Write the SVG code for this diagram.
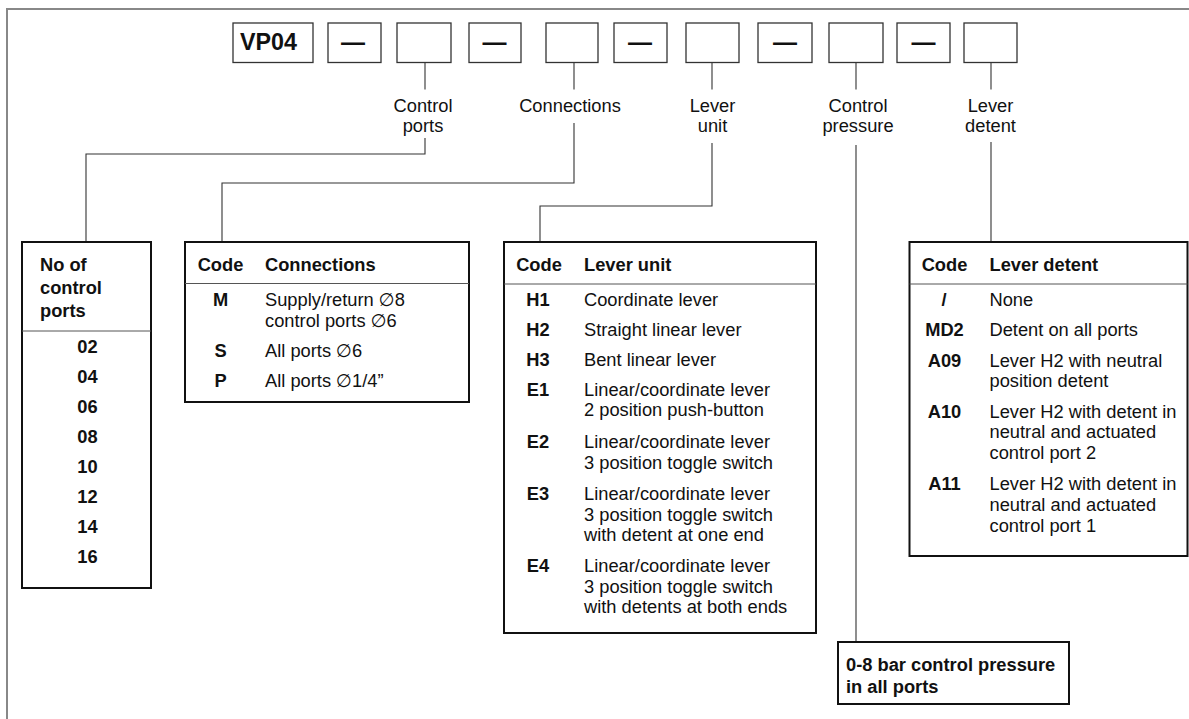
<svg xmlns="http://www.w3.org/2000/svg" width="1189" height="719" viewBox="0 0 1189 719">
<style>
text{font-family:"Liberation Sans",Arial,"DejaVu Sans",sans-serif;font-size:18.3px;fill:#111}
.b{font-weight:bold}
.m{text-anchor:middle}
.code{fill:#fff;stroke:#333;stroke-width:1.3}
.tbl{fill:#fff;stroke:#111;stroke-width:2}
.sep{stroke:#555;stroke-width:1}
.con{fill:none;stroke:#333;stroke-width:1.1}
.dash{font-size:24px;font-weight:bold;text-anchor:middle}
</style>
<rect x="7" y="9" width="1200" height="720" fill="#fff" stroke="#888" stroke-width="2"/>
<g id="code-row">
<rect class="code" x="233" y="23" width="80" height="39.5"/>
<text class="b" x="240" y="50" style="font-size:24px" textLength="57" lengthAdjust="spacingAndGlyphs">VP04</text>
<rect class="code" x="328" y="23" width="53" height="39.5"/>
<text class="dash" x="353" y="49.5">—</text>
<rect class="code" x="397" y="23" width="54" height="39.5"/>
<rect class="code" x="469" y="23" width="52" height="39.5"/>
<text class="dash" x="494.5" y="49.5">—</text>
<rect class="code" x="546" y="23" width="52" height="39.5"/>
<rect class="code" x="614" y="23" width="53" height="39.5"/>
<text class="dash" x="640" y="49.5">—</text>
<rect class="code" x="686" y="23" width="53" height="39.5"/>
<rect class="code" x="758" y="23" width="54" height="39.5"/>
<text class="dash" x="785" y="49.5">—</text>
<rect class="code" x="829" y="23" width="54" height="39.5"/>
<rect class="code" x="897" y="23" width="53" height="39.5"/>
<text class="dash" x="923.5" y="49.5">—</text>
<rect class="code" x="964" y="23" width="53" height="39.5"/>
</g>
<g id="labels">
<text class="m" x="423" y="112">Control</text>
<text class="m" x="423" y="132">ports</text>
<text class="m" x="570" y="112">Connections</text>
<text class="m" x="712.5" y="112">Lever</text>
<text class="m" x="712.5" y="132">unit</text>
<text class="m" x="858" y="112">Control</text>
<text class="m" x="858" y="132">pressure</text>
<text class="m" x="990.5" y="112">Lever</text>
<text class="m" x="990.5" y="132">detent</text>
</g>
<g id="connectors">
<path class="con" d="M425,62.5 V89.5 M425,138 V154 H86 V242"/>
<path class="con" d="M574,62.5 V89.5 M574,123 V183 H222 V242"/>
<path class="con" d="M712,62.5 V89.5 M712,143 V206 H540 V242"/>
<path class="con" d="M856,62.5 V89.5 M856,145 V642"/>
<path class="con" d="M991,62.5 V89.5 M991,142 V242"/>
</g>
<g id="control-ports-table">
<rect class="tbl" x="22" y="242" width="129" height="346"/>
<text class="b" x="40" y="271">No of</text>
<text class="b" x="40" y="294">control</text>
<text class="b" x="40" y="317">ports</text>
<line class="sep" x1="22" y1="331" x2="151" y2="331"/>
<text class="b m" x="87.5" y="353">02</text>
<text class="b m" x="87.5" y="383">04</text>
<text class="b m" x="87.5" y="413">06</text>
<text class="b m" x="87.5" y="443">08</text>
<text class="b m" x="87.5" y="473">10</text>
<text class="b m" x="87.5" y="503">12</text>
<text class="b m" x="87.5" y="533">14</text>
<text class="b m" x="87.5" y="563">16</text>
</g>
<g id="connections-table">
<rect class="tbl" x="185" y="242" width="284" height="160"/>
<text class="b m" x="220.5" y="271">Code</text>
<text class="b" x="265" y="271">Connections</text>
<line class="sep" x1="185" y1="283.5" x2="469" y2="283.5"/>
<text class="b m" x="220.5" y="306">M</text>
<text x="265" y="306">Supply/return ∅8</text>
<text x="265" y="327">control ports ∅6</text>
<text class="b m" x="220.5" y="357">S</text>
<text x="265" y="357">All ports ∅6</text>
<text class="b m" x="220.5" y="387">P</text>
<text x="265" y="387">All ports ∅1/4”</text>
</g>
<g id="lever-unit-table">
<rect class="tbl" x="504" y="242" width="312" height="391"/>
<text class="b m" x="539" y="271">Code</text>
<text class="b" x="584" y="271">Lever unit</text>
<line class="sep" x1="504" y1="284" x2="816" y2="284"/>
<text class="b m" x="538" y="306">H1</text>
<text x="584" y="306">Coordinate lever</text>
<text class="b m" x="538" y="336">H2</text>
<text x="584" y="336">Straight linear lever</text>
<text class="b m" x="538" y="366">H3</text>
<text x="584" y="366">Bent linear lever</text>
<text class="b m" x="538" y="395.5">E1</text>
<text x="584" y="395.5">Linear/coordinate lever</text>
<text x="584" y="416">2 position push-button</text>
<text class="b m" x="538" y="448">E2</text>
<text x="584" y="448">Linear/coordinate lever</text>
<text x="584" y="468.5">3 position toggle switch</text>
<text class="b m" x="538" y="500">E3</text>
<text x="584" y="500">Linear/coordinate lever</text>
<text x="584" y="520.5">3 position toggle switch</text>
<text x="584" y="541">with detent at one end</text>
<text class="b m" x="538" y="572">E4</text>
<text x="584" y="572">Linear/coordinate lever</text>
<text x="584" y="592.5">3 position toggle switch</text>
<text x="584" y="613">with detents at both ends</text>
</g>
<g id="lever-detent-table">
<rect class="tbl" x="909.5" y="242" width="278" height="314"/>
<text class="b m" x="944.5" y="271">Code</text>
<text class="b" x="989.5" y="271">Lever detent</text>
<line class="sep" x1="909.5" y1="284" x2="1187.5" y2="284"/>
<text class="b m" x="944" y="306">/</text>
<text x="989.5" y="306">None</text>
<text class="b m" x="944.5" y="336">MD2</text>
<text x="989.5" y="336">Detent on all ports</text>
<text class="b m" x="944.5" y="366.5">A09</text>
<text x="989.5" y="366.5">Lever H2 with neutral</text>
<text x="989.5" y="387">position detent</text>
<text class="b m" x="944.5" y="417.5">A10</text>
<text x="989.5" y="417.5">Lever H2 with detent in</text>
<text x="989.5" y="438">neutral and actuated</text>
<text x="989.5" y="458.5">control port 2</text>
<text class="b m" x="944.5" y="490">A11</text>
<text x="989.5" y="490">Lever H2 with detent in</text>
<text x="989.5" y="511">neutral and actuated</text>
<text x="989.5" y="532">control port 1</text>
</g>
<g id="control-pressure-box">
<rect class="tbl" x="838" y="642" width="231" height="62"/>
<text class="b" x="846" y="671">0-8 bar control pressure</text>
<text class="b" x="846" y="692.5">in all ports</text>
</g>
</svg>
